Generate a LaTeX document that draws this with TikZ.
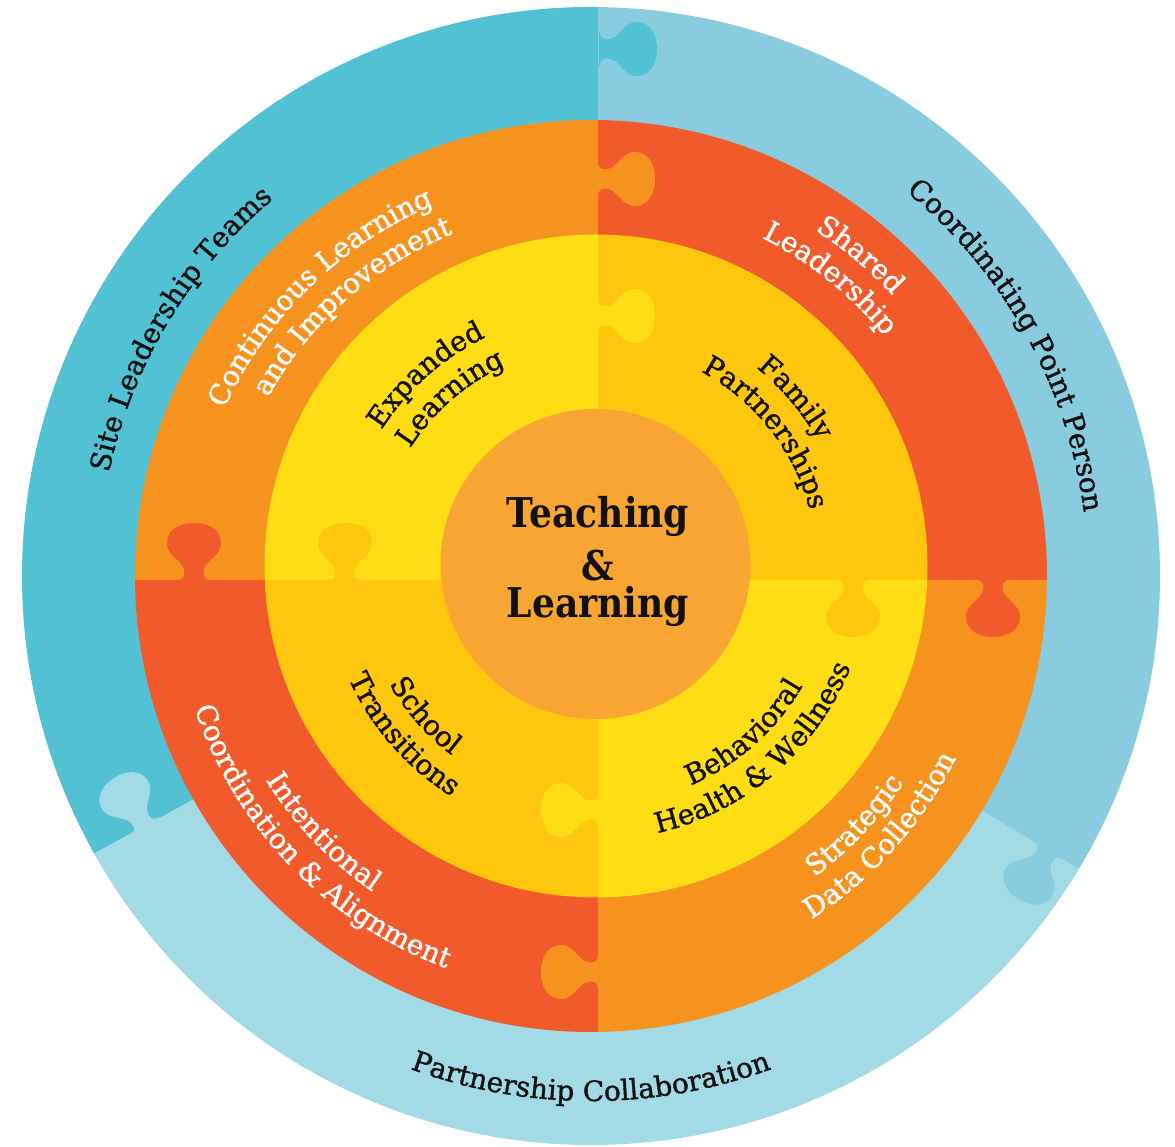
\documentclass[tikz,border=0pt]{standalone}
\usepackage{fontspec}
\setmainfont{DejaVu Serif}[BoldFeatures={FakeStretch=0.88}]
\newfontfamily\labelfamily{DejaVu Serif}[FakeBold=1.2]
\usetikzlibrary{decorations.text}
\definecolor{siteteal}{HTML}{52C1D4}
\definecolor{pointblue}{HTML}{89CCDF}
\definecolor{partnerblue}{HTML}{A2DBE6}
\definecolor{ringorange}{HTML}{F6921E}
\definecolor{ringred}{HTML}{F15A2B}
\definecolor{lightyellow}{HTML}{FEDD15}
\definecolor{darkyellow}{HTML}{FEC60C}
\definecolor{coreorange}{HTML}{F9A533}
\definecolor{ink}{HTML}{111111}
\newcommand{\ringfont}{\labelfamily\fontsize{28}{28}\selectfont}
\newcommand{\outerfont}{\labelfamily\fontsize{28}{28}\selectfont}
\newcommand{\corefont}{\fontsize{41}{41}\selectfont\bfseries}
\tikzset{
  knob/.pic={
    \fill[pic actions] (-17,-1) -- (-17,0) .. controls (-9,0) and (-8,6) .. (-11,13)
      .. controls (-14,20) and (-28,26) .. (-27,38)
      .. controls (-26,52) and (-12,57) .. (0,57)
      .. controls (12,57) and (26,52) .. (27,38)
      .. controls (28,26) and (14,20) .. (11,13)
      .. controls (8,6) and (9,0) .. (17,0) -- (17,-1) -- cycle;
  }
}
\begin{document}
\begin{tikzpicture}[x=1pt, y=1pt,
    arctext/.style={decorate, decoration={text along path, text align=center, text color=#1}},
    coretext/.style={font=\corefont, text=ink, anchor=base, inner sep=0}]
  \useasboundingbox (-598,-567) rectangle (577,580);
  \begin{scope}
    \clip (-7,4) circle (569);
    \fill[siteteal] (0,0) -- (90:900) arc[start angle=90, end angle=208.5, radius=900] -- cycle;
    \fill[partnerblue] (0,0) -- (208.5:900) arc[start angle=208.5, end angle=329, radius=900] -- cycle;
    \fill[pointblue] (0,0) -- (329:900) arc[start angle=329, end angle=450, radius=900] -- cycle;
  \end{scope}
  \pic[fill=siteteal, rotate=-90] at (2,531) {knob};
  \pic[fill=partnerblue, rotate=32] at (208.5:516) {knob};
  \pic[fill=pointblue, rotate=149] at (329:525) {knob};
  \begin{scope}
    \clip (-7,4) circle (456);
    \fill[ringorange] (0,0) rectangle (-600,600);
    \fill[ringred] (0,0) rectangle (600,600);
    \fill[ringorange] (0,0) rectangle (600,-600);
    \fill[ringred] (0,0) rectangle (-600,-600);
  \end{scope}
  \pic[fill=ringorange, rotate=-90] at (0,401) {knob};
  \pic[fill=ringorange, rotate=90] at (0,-392) {knob};
  \pic[fill=ringred] at (-404,0) {knob};
  \pic[fill=ringred, rotate=180] at (395,0) {knob};
  \begin{scope}
    \clip (-2,14) circle (331.5);
    \fill[lightyellow] (0,0) rectangle (-400,400);
    \fill[darkyellow] (0,0) rectangle (400,400);
    \fill[lightyellow] (0,0) rectangle (400,-400);
    \fill[darkyellow] (0,0) rectangle (-400,-400);
  \end{scope}
  \pic[fill=lightyellow, rotate=-90] at (0,264) {knob};
  \pic[fill=lightyellow, rotate=90] at (0,-230) {knob};
  \pic[fill=darkyellow] at (-253,0) {knob};
  \pic[fill=darkyellow, rotate=180] at (255,0) {knob};
  \fill[coreorange] (-2.5,16) circle (155);
  \node[coretext] (teaching) at (0,52) {Teaching};
  \node[coretext] (amp) at (0,-1) {\&};
  \node[coretext] (learning) at (0,-38) {Learning};
  \begin{scope}[shift={(-7,4)}]
    \path[arctext=ink, decoration={text={|\outerfont|Site Leadership Teams}}]
      (199:493) arc[start angle=199, end angle=99, radius=493];
    \path[arctext=ink, decoration={text={|\outerfont|Coordinating Point Person}}]
      (79:497) arc[start angle=79, end angle=-21, radius=497];
    \path[arctext=ink, decoration={text={|\outerfont|Partnership Collaboration}}]
      (220:525) arc[start angle=220, end angle=320, radius=525];
    \path[arctext=white, decoration={text={|\ringfont|Continuous Learning}}]
      (184.2:403) arc[start angle=184.2, end angle=84.2, radius=403];
    \path[arctext=white, decoration={text={|\ringfont|and Improvement}}]
      (181.5:369) arc[start angle=181.5, end angle=81.5, radius=369];
    \path[arctext=white, decoration={text={|\ringfont|Shared}}]
      (100:412) arc[start angle=100, end angle=0, radius=412];
    \path[arctext=white, decoration={text={|\ringfont|Leadership}}]
      (101.2:379) arc[start angle=101.2, end angle=1.2, radius=379];
    \path[arctext=white, decoration={text={|\ringfont|Strategic}}]
      (-93.4:375) arc[start angle=-93.4, end angle=6.6, radius=375];
    \path[arctext=white, decoration={text={|\ringfont|Data Collection}}]
      (-91.9:408) arc[start angle=-91.9, end angle=8.1, radius=408];
    \path[arctext=white, decoration={text={|\ringfont|Intentional}}]
      (173.7:384) arc[start angle=173.7, end angle=273.7, radius=384];
    \path[arctext=white, decoration={text={|\ringfont|Coordination {\&} Alignment}}]
      (174.1:418) arc[start angle=174.1, end angle=274.1, radius=418];
  \end{scope}
  \begin{scope}[shift={(-2,14)}]
    \path[arctext=ink, decoration={text={|\ringfont|Expanded}}]
      (181.7:254) arc[start angle=181.7, end angle=81.7, radius=254];
    \path[arctext=ink, decoration={text={|\ringfont|Learning}}]
      (181:220) arc[start angle=181, end angle=81, radius=220];
    \path[arctext=ink, decoration={text={|\ringfont|Family}}]
      (90.2:255) arc[start angle=90.2, end angle=-9.8, radius=255];
    \path[arctext=ink, decoration={text={|\ringfont|Partnerships}}]
      (88.1:221) arc[start angle=88.1, end angle=-11.9, radius=221];
    \path[arctext=ink, decoration={text={|\ringfont|School}}]
      (171.2:238) arc[start angle=171.2, end angle=271.2, radius=238];
    \path[arctext=ink, decoration={text={|\ringfont|Transitions}}]
      (171.2:272) arc[start angle=171.2, end angle=271.2, radius=272];
    \path[arctext=ink, decoration={text={|\ringfont|Behavioral}}]
      (-98.4:239) arc[start angle=-98.4, end angle=1.6, radius=239];
    \path[arctext=ink, decoration={text={|\ringfont|Health {\&} Wellness}}]
      (-99.3:274) arc[start angle=-99.3, end angle=0.7, radius=274];
  \end{scope}
\end{tikzpicture}
\end{document}
